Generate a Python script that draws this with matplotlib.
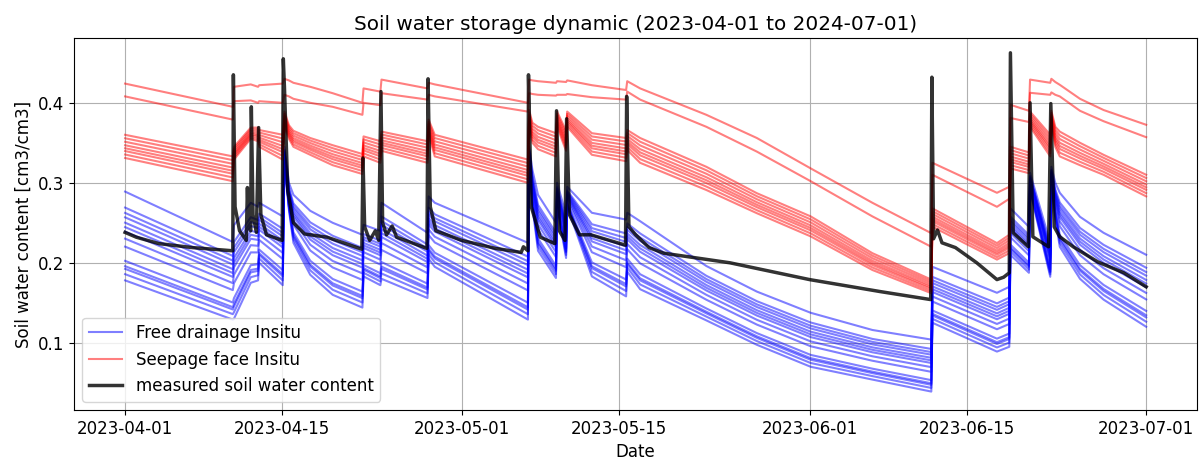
"""Soil water storage dynamic: simulated ensembles vs measured soil water content."""

import matplotlib
matplotlib.use("Agg")
import matplotlib.pyplot as plt
import matplotlib.dates as mdates
import numpy as np
import pandas as pd

START = pd.Timestamp("2023-04-01")

# --- model ensembles: key days (since 2023-04-01) and envelope values ---
model_days = [0, 9.6, 9.7, 11.2, 11.85, 11.95, 14.05, 14.2, 14.6, 15, 16.5, 18.5, 21.15,
              21.25, 22.75, 22.85, 26.95, 27.05, 27.6, 35.9, 36.0, 36.3, 36.8, 38.4, 38.5,
              39.3, 39.4, 41.6, 44.65, 44.75, 45.9, 51.8, 56.3, 61.1, 66.6, 71.85, 71.95,
              77.7, 78.8, 78.9, 80.55, 80.65, 82.45, 82.55, 82.9, 83.3, 85.1, 87.2, 91.0]

# free drainage (blue) upper / lower envelope
blue_top = [0.289, 0.226, 0.247, 0.275, 0.270, 0.275, 0.258, 0.345, 0.300, 0.285, 0.265,
            0.250, 0.235, 0.2475, 0.240, 0.275, 0.2375, 0.283, 0.275, 0.225, 0.345, 0.316,
            0.285, 0.250, 0.300, 0.260, 0.295, 0.2625, 0.254, 0.2625, 0.252, 0.196, 0.164,
            0.1375, 0.116, 0.104, 0.195, 0.1625, 0.170, 0.268, 0.245, 0.3125, 0.225, 0.320,
            0.300, 0.2875, 0.2575, 0.2375, 0.210]
blue_bot = [0.178, 0.129, 0.130, 0.175, 0.178, 0.200, 0.172, 0.325, 0.266, 0.225, 0.185,
            0.160, 0.144, 0.183, 0.172, 0.180, 0.156, 0.205, 0.195, 0.129, 0.330, 0.270,
            0.215, 0.181, 0.270, 0.206, 0.270, 0.183, 0.158, 0.189, 0.167, 0.128, 0.0975,
            0.070, 0.054, 0.039, 0.125, 0.089, 0.095, 0.210, 0.1875, 0.290, 0.1825, 0.300,
            0.255, 0.220, 0.180, 0.154, 0.120]

# seepage face (red), upper pair of lines
red_hi_top = [0.424, 0.395, 0.420, 0.423, 0.420, 0.422, 0.424, 0.430, 0.428, 0.425, 0.420,
              0.412, 0.400, 0.418, 0.414, 0.429, 0.418, 0.425, 0.423, 0.400, 0.429, 0.428,
              0.427, 0.425, 0.427, 0.426, 0.428, 0.422, 0.416, 0.427, 0.418, 0.385, 0.356,
              0.318, 0.275, 0.237, 0.325, 0.2875, 0.295, 0.3975, 0.390, 0.429, 0.425, 0.430,
              0.426, 0.4225, 0.405, 0.391, 0.3725]
red_hi_bot = [0.408, 0.379, 0.402, 0.403, 0.400, 0.402, 0.400, 0.410, 0.408, 0.405, 0.400,
              0.395, 0.385, 0.400, 0.397, 0.412, 0.404, 0.410, 0.408, 0.389, 0.412, 0.411,
              0.410, 0.409, 0.410, 0.410, 0.411, 0.407, 0.404, 0.414, 0.404, 0.370, 0.339,
              0.302, 0.258, 0.220, 0.310, 0.270, 0.280, 0.381, 0.376, 0.4125, 0.410, 0.413,
              0.410, 0.408, 0.390, 0.377, 0.357]

# seepage face (red), lower bundle
red_lo_top = [0.360, 0.333, 0.345, 0.369, 0.369, 0.366, 0.360, 0.389, 0.372, 0.365, 0.356,
              0.347, 0.336, 0.358, 0.352, 0.364, 0.352, 0.379, 0.360, 0.329, 0.391, 0.375,
              0.370, 0.362, 0.389, 0.365, 0.389, 0.362, 0.356, 0.366, 0.356, 0.320, 0.287,
              0.258, 0.212, 0.179, 0.268, 0.2246, 0.235, 0.345, 0.338, 0.389, 0.360, 0.390,
              0.370, 0.364, 0.350, 0.335, 0.310]
red_lo_bot = [0.331, 0.302, 0.329, 0.355, 0.352, 0.345, 0.329, 0.370, 0.355, 0.345, 0.335,
              0.322, 0.311, 0.333, 0.325, 0.340, 0.325, 0.360, 0.333, 0.300, 0.370, 0.350,
              0.342, 0.333, 0.370, 0.340, 0.370, 0.335, 0.327, 0.341, 0.325, 0.291, 0.262,
              0.233, 0.191, 0.162, 0.245, 0.204, 0.212, 0.318, 0.312, 0.370, 0.333, 0.372,
              0.345, 0.333, 0.322, 0.310, 0.283]

# relative position of each ensemble member inside its envelope
blue_members = [1.0, 0.82, 0.76, 0.71, 0.65, 0.60, 0.55, 0.47, 0.38, 0.22, 0.16, 0.13, 0.07, 0.0]
red_hi_members = [1.0, 0.0]
red_lo_members = [1.0, 0.85, 0.70, 0.55, 0.42, 0.30, 0.15, 0.0]

# --- measured soil water content ---
meas_days = [0, 1, 3, 6, 9.6, 9.65, 9.8, 10.2, 10.8, 10.9, 11.0, 11.2, 11.25, 11.4, 11.7,
             11.9, 12.1, 12.6, 14.0, 14.1, 14.2, 14.5, 15, 16, 18, 21.1, 21.2, 21.35, 21.8,
             22.3, 22.6, 22.8, 22.95, 23.3, 23.8, 24.2, 26.9, 27.0, 27.2, 27.7, 30, 33, 35.3,
             35.5, 35.9, 35.95, 36.2, 37, 38.3, 38.45, 38.7, 39.2, 39.35, 39.6, 40.5, 41.5,
             44.6, 44.7, 44.9, 45.5, 46.7, 48, 53.9, 61, 67.3, 71.8, 71.9, 72.05, 72.4, 72.8,
             74, 75.9, 77.7, 78.3, 78.8, 78.9, 79.15, 80.5, 80.65, 80.9, 82.3, 82.5, 82.8,
             83.3, 84.5, 86.7, 89, 91]
meas_swc = [0.238, 0.232, 0.224, 0.219, 0.215, 0.435, 0.270, 0.240, 0.228, 0.294, 0.245,
            0.240, 0.395, 0.260, 0.238, 0.369, 0.260, 0.235, 0.228, 0.455, 0.420, 0.290,
            0.250, 0.236, 0.232, 0.217, 0.331, 0.245, 0.228, 0.240, 0.228, 0.414, 0.250,
            0.235, 0.246, 0.232, 0.218, 0.430, 0.270, 0.240, 0.228, 0.218, 0.213, 0.220,
            0.215, 0.435, 0.270, 0.232, 0.224, 0.390, 0.240, 0.228, 0.380, 0.260, 0.235,
            0.235, 0.222, 0.408, 0.245, 0.235, 0.219, 0.212, 0.200, 0.179, 0.164, 0.154,
            0.432, 0.230, 0.241, 0.225, 0.219, 0.200, 0.179, 0.182, 0.1875, 0.4625, 0.2375,
            0.220, 0.400, 0.2325, 0.220, 0.399, 0.245, 0.2325, 0.220, 0.201, 0.1875, 0.170]


def to_dates(days):
    return START + pd.to_timedelta(np.asarray(days), unit="D")


def plot_members(ax, dates, top, bot, members, color):
    top = np.asarray(top)
    bot = np.asarray(bot)
    for f in members:
        ax.plot(dates, bot + f * (top - bot), color=color, alpha=0.5, lw=1.5)


def main():
    plt.rcParams.update({"font.size": 12, "font.family": "DejaVu Sans"})
    fig = plt.figure(figsize=(12, 4.59), dpi=100)
    ax = fig.add_axes([0.0617, 0.1068, 0.936, 0.8104])

    mdates_model = to_dates(model_days)
    plot_members(ax, mdates_model, blue_top, blue_bot, blue_members, "blue")
    plot_members(ax, mdates_model, red_hi_top, red_hi_bot, red_hi_members, "red")
    plot_members(ax, mdates_model, red_lo_top, red_lo_bot, red_lo_members, "red")
    ax.plot(to_dates(meas_days), meas_swc, color="black", alpha=0.8, lw=2.5)

    # legend proxies
    ax.plot([], [], color="blue", alpha=0.5, lw=1.5, label="Free drainage Insitu")
    ax.plot([], [], color="red", alpha=0.5, lw=1.5, label="Seepage face Insitu")
    ax.plot([], [], color="black", alpha=0.8, lw=2.5, label="measured soil water content")
    ax.legend(loc="lower left")

    ax.set_ylim(0.016, 0.481)
    ax.set_yticks([0.1, 0.2, 0.3, 0.4])
    ax.xaxis.set_major_formatter(mdates.DateFormatter("%Y-%m-%d"))
    ax.grid(True)
    ax.set_xlabel("Date")
    ax.set_ylabel("Soil water content [cm3/cm3]")
    ax.set_title("Soil water storage dynamic (2023-04-01 to 2024-07-01)")

    fig.savefig("out.png", dpi=100)
    plt.close(fig)


if __name__ == "__main__":
    main()
